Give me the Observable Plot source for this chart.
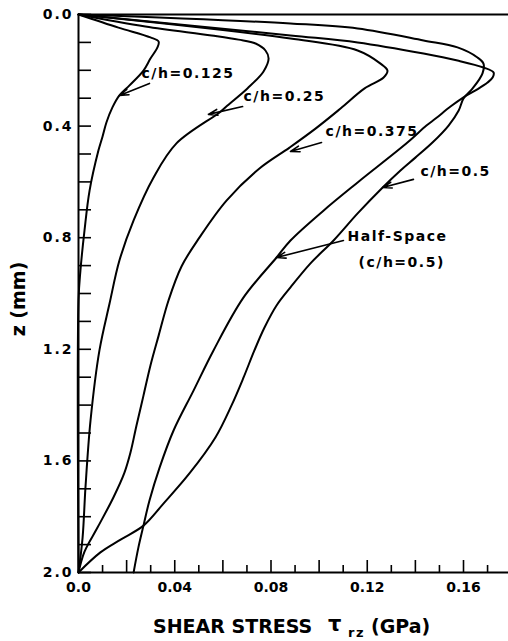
<!DOCTYPE html>
<html><head><meta charset="utf-8">
<script src="https://cdn.jsdelivr.net/npm/d3@7"></script>
<script src="https://cdn.jsdelivr.net/npm/@observablehq/plot@0.6"></script>
<style>
body{margin:0;background:#fff}
#chart svg{display:block}
svg text{font-family:"DejaVu Sans",sans-serif;font-weight:bold}
g[aria-label="text"] text{letter-spacing:1.5px}
g[aria-label="y-axis tick label"] text{letter-spacing:2px}
</style></head><body><div id="chart"></div>
<script>
// ---- data ----
const seriesNames = ["c/h=0.125", "c/h=0.25", "c/h=0.375", "c/h=0.5", "Half-Space"];

const tau0125 = [0, 0.0166, 0.0299, 0.0333, 0.0328, 0.0299, 0.0270, 0.0212, 0.0170, 0.0141, 0.0116, 0.0100, 0.0083, 0.0046, 0.0025, 0.0008, 0, 0];
const z0125   = [0, 0.047, 0.082, 0.097, 0.118, 0.158, 0.201, 0.254, 0.290, 0.333, 0.387, 0.437, 0.487, 0.631, 0.774, 0.918, 1.025, 2.0];

const tau025 = [0, 0.0278, 0.0553, 0.0665, 0.0736, 0.0777, 0.0790, 0.0769, 0.0702, 0.0619, 0.0586, 0.0407, 0.0312, 0.0229, 0.0170, 0.0129, 0.0087, 0.0050, 0.0029, 0.0017, 0];
const z025   = [0, 0.043, 0.075, 0.090, 0.104, 0.129, 0.158, 0.204, 0.265, 0.326, 0.351, 0.462, 0.584, 0.738, 0.882, 1.036, 1.204, 1.455, 1.695, 1.875, 2.0];

const tau0375 = [0, 0.0881, 0.1160, 0.1255, 0.1284, 0.1268, 0.1189, 0.1089, 0.0985, 0.0877, 0.0752, 0.0615, 0.0503, 0.0428, 0.0374, 0.0333, 0.0299, 0.0270, 0.0241, 0.0216, 0.0191, 0.0145, 0.0079, 0.0025, 0];
const z0375   = [0, 0.086, 0.129, 0.176, 0.201, 0.226, 0.265, 0.337, 0.409, 0.477, 0.552, 0.667, 0.799, 0.903, 1.025, 1.151, 1.258, 1.366, 1.473, 1.570, 1.642, 1.731, 1.839, 1.925, 2.0];

const tau05 = [0, 0.0881, 0.1160, 0.1434, 0.1575, 0.1658, 0.1683, 0.1679, 0.1638, 0.1600, 0.1580, 0.1538, 0.1471, 0.1400, 0.1338, 0.1264, 0.1160, 0.1060, 0.0964, 0.0881, 0.0823, 0.0773, 0.0731, 0.0686, 0.0636, 0.0569, 0.0461, 0.0353, 0.0270, 0.0175, 0.0091, 0];
const z05   = [0, 0.032, 0.050, 0.093, 0.118, 0.154, 0.176, 0.211, 0.265, 0.301, 0.344, 0.398, 0.459, 0.513, 0.559, 0.620, 0.713, 0.810, 0.892, 0.978, 1.043, 1.122, 1.204, 1.301, 1.401, 1.516, 1.645, 1.753, 1.832, 1.882, 1.928, 2.0];

const tauHS = [0, 0.0881, 0.1160, 0.1434, 0.1575, 0.1683, 0.1725, 0.1721, 0.1700, 0.1650, 0.1600, 0.1546, 0.1484, 0.1446, 0.1367, 0.1160, 0.1018, 0.0881, 0.0823, 0.0686, 0.0561, 0.0478, 0.0395, 0.0337, 0.0295, 0.0270, 0.0249, 0.0229];
const zHS   = [0, 0.075, 0.100, 0.140, 0.165, 0.190, 0.208, 0.226, 0.244, 0.272, 0.297, 0.330, 0.373, 0.398, 0.459, 0.602, 0.703, 0.810, 0.871, 1.014, 1.204, 1.348, 1.491, 1.624, 1.742, 1.832, 1.910, 2.0];

// annotations
const labelText = ["c/h=0.125", "c/h=0.25", "c/h=0.375", "c/h=0.5", "Half-Space", "(c/h=0.5)"];
const labelTau  = [0.0262, 0.0686, 0.1027, 0.1421, 0.1118, 0.1164];
const labelZ    = [0.211, 0.294, 0.419, 0.563, 0.796, 0.889];
const arrowFromTau = [0.0295, 0.0682, 0.1010, 0.1392, 0.1101];
const arrowFromZ   = [0.247, 0.330, 0.459, 0.591, 0.810];
const arrowToTau   = [0.0170, 0.0540, 0.0881, 0.1264, 0.0823];
const arrowToZ     = [0.290, 0.358, 0.491, 0.620, 0.871];

// ticks
const xMajorTicks = [0.02, 0.04, 0.06, 0.08, 0.10, 0.12, 0.14, 0.16];
const xMinorTicks = [0.01, 0.03, 0.05, 0.07, 0.09, 0.11, 0.13, 0.15, 0.17];
const xLabelTicks = [0, 0.04, 0.08, 0.12, 0.16];
const yTicks = d3.range(0, 21).map(i => i / 10);
const yLabelTicks = [0, 0.4, 0.8, 1.2, 1.6, 2.0];

// ---- build table ----
const allTau = [tau0125, tau025, tau0375, tau05, tauHS];
const allZ = [z0125, z025, z0375, z05, zHS];
const rows = [];
seriesNames.forEach((s, k) => allTau[k].forEach((t, i) => rows.push({series: s, tau: t, z: allZ[k][i]})));
const labels = labelText.map((t, i) => ({text: t, tau: labelTau[i], z: labelZ[i]}));
const arrows = arrowFromTau.map((t, i) => ({x1: t, y1: arrowFromZ[i], x2: arrowToTau[i], y2: arrowToZ[i]}));

const chart = Plot.plot({
  width: 508,
  height: 641,
  marginLeft: 78,
  marginRight: 0,
  marginTop: 14,
  marginBottom: 69,
  style: {background: "white", fontFamily: "DejaVu Sans, sans-serif", fontSize: "14px", fontWeight: "bold", color: "black", overflow: "visible"},
  x: {domain: [0, 0.1787], axis: null},
  y: {domain: [0, 2], reverse: true, axis: null},
  marks: [
    Plot.ruleY([0, 2], {stroke: "black", strokeWidth: 2}),
    Plot.ruleX([0], {stroke: "black", strokeWidth: 2}),
    Plot.axisY({ticks: yTicks, tickSize: -13, tickFormat: () => "", label: null, strokeWidth: 1.6}),
    Plot.axisY({ticks: yLabelTicks, tickSize: 0, tickPadding: 5, tickFormat: d => d.toFixed(1), label: null, fontSize: 14}),
    Plot.axisX({ticks: xMajorTicks, tickSize: -12, tickFormat: () => "", label: null, strokeWidth: 1.6}),
    Plot.axisX({ticks: xMinorTicks, tickSize: -7, tickFormat: () => "", label: null, strokeWidth: 1.6}),
    Plot.axisX({ticks: xLabelTicks, tickSize: 0, tickPadding: 10, tickFormat: d => d === 0 ? "0.0" : d.toFixed(2), label: null, fontSize: 14}),
    Plot.line(rows, {x: "tau", y: "z", z: "series", stroke: "black", strokeWidth: 2, curve: "catmull-rom"}),
    Plot.arrow(arrows, {x1: "x1", y1: "y1", x2: "x2", y2: "y2", stroke: "black", strokeWidth: 1.6, headLength: 9, headAngle: 36}),
    Plot.text(labels, {x: "tau", y: "z", text: "text", textAnchor: "start", fontSize: 14, fill: "black"})
  ]
});
document.getElementById("chart").appendChild(chart);

// axis titles
const svg = d3.select(chart);
const xt = svg.append("g").attr("fill", "black").attr("text-anchor", "start")
  .attr("font-family", "DejaVu Sans, sans-serif").attr("font-weight", "bold");
xt.append("text").attr("x", 153).attr("y", 633).attr("font-size", 19).text("SHEAR STRESS");
xt.append("text").attr("x", 328).attr("y", 631).attr("font-size", 21).text("τ");
xt.append("text").attr("x", 348).attr("y", 637).attr("font-size", 13).attr("letter-spacing", "1.5px").text("rz");
xt.append("text").attr("x", 371).attr("y", 633).attr("font-size", 19).text("(GPa)");
svg.append("text").attr("transform", "translate(25,299) rotate(-90)").attr("text-anchor", "middle")
  .attr("font-size", 19).attr("font-family", "DejaVu Sans, sans-serif").attr("font-weight", "bold").attr("fill", "black").text("z (mm)");
</script></body></html>
